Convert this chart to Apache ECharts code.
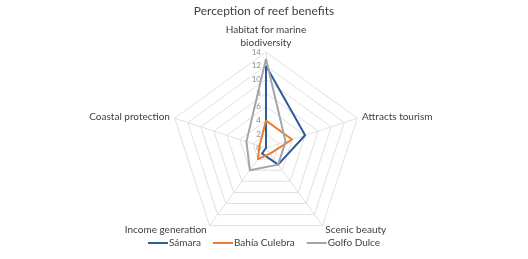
<!DOCTYPE html>
<html>
<head>
<meta charset="utf-8">
<script src="https://cdn.jsdelivr.net/npm/echarts@6/dist/echarts.min.js"></script>
<style>
  html, body { margin: 0; padding: 0; background: #fff; }
  #chart { width: 528px; height: 259px; }
</style>
</head>
<body>
<div id="chart"></div>
<script>
// axes in echarts order (counterclockwise from top)
var benefits = ['Habitat for marine\nbiodiversity', 'Coastal protection', 'Income generation', 'Scenic beauty', 'Attracts tourism'];
var samara = [12, 0, 1, 3, 6];
var bahiaCulebra = [4, 1, 2, 1, 4];
var golfoDulce = [13, 3, 4, 3, 3];
var seriesNames = ['Sámara', 'Bahía Culebra', 'Golfo Dulce'];
var seriesColors = ['#2E5C9A', '#ED7D31', '#A5A5A5'];

var font = 'Lato, "Open Sans", sans-serif';
var myChart = echarts.init(document.getElementById('chart'));

var indicator = benefits.map(function(name, i) {
	var ind = { name: name, min: 0, max: 14 };
	if (i == 0) {
		ind.axisLabel = { show: true };
	}
	return ind;
});

var allData = [samara, bahiaCulebra, golfoDulce];

option = {
	animation: false,
	title: {
		text: 'Perception of reef benefits',
		left: 'center',
		top: 0,
		textStyle: { fontFamily: font, fontSize: 12, fontWeight: 'normal', color: '#404040' }
	},
	legend: {
		bottom: 6,
		left: 'center',
		icon: 'rect',
		itemWidth: 20,
		itemHeight: 2,
		itemGap: 12,
		textStyle: { fontFamily: font, fontSize: 10, color: '#404040', padding: [0, 0, 0, -4] },
		data: seriesNames
	},
	radar: {
		center: [266, 148],
		radius: 96,
		startAngle: 90,
		shape: 'polygon',
		splitNumber: 7,
		indicator: indicator,
		nameGap: 5,
		axisName: { fontFamily: font, fontSize: 10, lineHeight: 13, color: '#404040', padding: [0, 0, -4, 0] },
		axisLine: { lineStyle: { color: '#e0e0e0', width: 1 } },
		splitLine: { lineStyle: { color: '#e0e0e0', width: 1 } },
		splitArea: { show: false },
		axisTick: { show: false },
		axisLabel: { show: false, fontFamily: font, fontSize: 8, color: '#8c8c8c', margin: 5 }
	},
	series: [{
		type: 'radar',
		symbol: 'none',
		data: allData.map(function(vals, i) {
			return {
				name: seriesNames[i],
				value: vals,
				itemStyle: { color: seriesColors[i] },
				lineStyle: { color: seriesColors[i], width: 2 }
			};
		})
	}]
};
myChart.setOption(option);
</script>
</body>
</html>
